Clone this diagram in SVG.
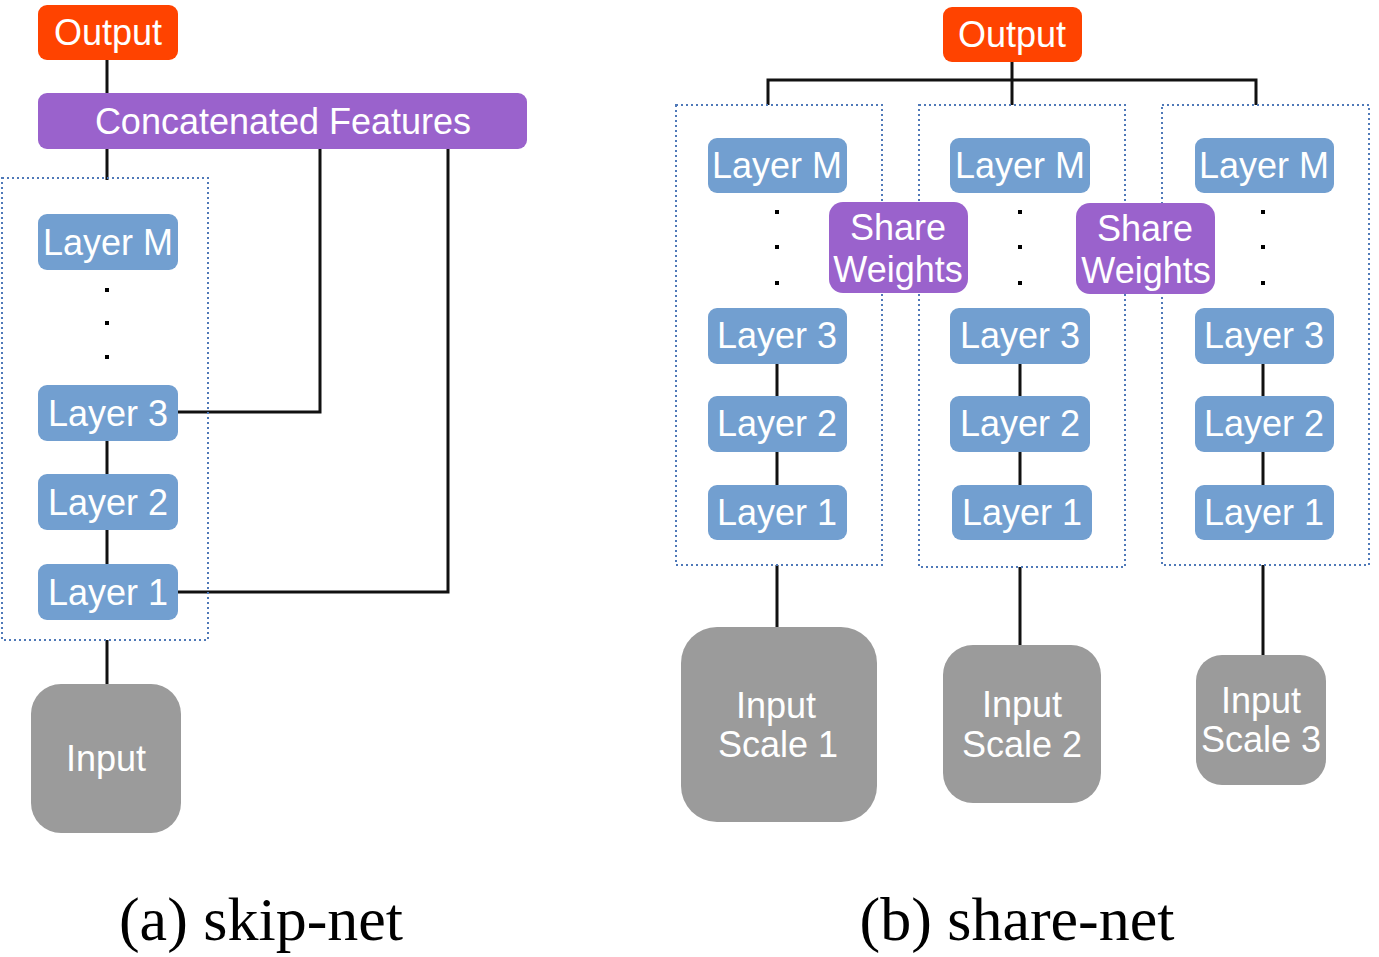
<svg xmlns="http://www.w3.org/2000/svg" width="1379" height="957" viewBox="0 0 1379 957">
<style>
.out{fill:#ff4300}
.cat{fill:#9a62cc}
.lay{fill:#729fd0}
.inp{fill:#9b9b9b}
.t{font-family:"Liberation Sans",Arial,sans-serif;font-size:36px;fill:#ffffff;text-anchor:middle}
.cap{font-family:"Liberation Serif","Times New Roman",serif;font-size:62px;fill:#000000;text-anchor:middle}
.grp{fill:none;stroke:#4f79b8;stroke-width:2;stroke-dasharray:2 3}
.ln{fill:none;stroke:#111111;stroke-width:3}
.dot{fill:#000000}
</style>
<g id="connectors">
<path class="ln" d="M107 60V93 M107 149V180 M107 640V684 M107 441V474 M107 530V564 M178 412H320V149 M178 592H448V149"/>
<path class="ln" d="M1012 62V80 M768 105V80H1256V105 M1012 80V105"/>
<path class="ln" d="M777 364V396 M777 452V485 M777 565V627 M1020 364V396 M1020 452V485 M1020 567V645 M1263 364V396 M1263 452V485 M1263 565V655"/>
</g>
<g id="groups">
<rect class="grp" x="2" y="178" width="206" height="462"/>
<rect class="grp" x="676" y="105" width="206" height="460"/>
<rect class="grp" x="919" y="105" width="206" height="462"/>
<rect class="grp" x="1162" y="105" width="207" height="460"/>
</g>
<g id="a-output"><rect class="out" x="38" y="5" width="140" height="55" rx="9"/><text class="t" x="108" y="45">Output</text></g>
<g id="a-concat"><rect class="cat" x="38" y="93" width="489" height="56" rx="9"/><text class="t" x="283" y="134">Concatenated Features</text></g>
<g id="a-layerM"><rect class="lay" x="38" y="214" width="140" height="56" rx="9"/><text class="t" x="108" y="255">Layer M</text></g>
<g id="a-dots"><rect class="dot" x="105" y="288" width="4" height="4"/><rect class="dot" x="105" y="321" width="4" height="4"/><rect class="dot" x="105" y="355" width="4" height="4"/></g>
<g id="a-layer3"><rect class="lay" x="38" y="385" width="140" height="56" rx="9"/><text class="t" x="108" y="426">Layer 3</text></g>
<g id="a-layer2"><rect class="lay" x="38" y="474" width="140" height="56" rx="9"/><text class="t" x="108" y="515">Layer 2</text></g>
<g id="a-layer1"><rect class="lay" x="38" y="564" width="140" height="56" rx="9"/><text class="t" x="108" y="605">Layer 1</text></g>
<g id="a-input"><rect class="inp" x="31" y="684" width="150" height="149" rx="30"/><text class="t" x="106" y="771">Input</text></g>

<g id="b-output"><rect class="out" x="943" y="7" width="139" height="55" rx="9"/><text class="t" x="1012" y="47">Output</text></g>

<g id="b1-layerM"><rect class="lay" x="708" y="138" width="139" height="55" rx="9"/><text class="t" x="777" y="178">Layer M</text></g>
<g id="b1-dots"><rect class="dot" x="775" y="210" width="4" height="4"/><rect class="dot" x="775" y="245" width="4" height="4"/><rect class="dot" x="775" y="281" width="4" height="4"/></g>
<g id="b1-layer3"><rect class="lay" x="708" y="308" width="139" height="56" rx="9"/><text class="t" x="777" y="348">Layer 3</text></g>
<g id="b1-layer2"><rect class="lay" x="708" y="396" width="139" height="56" rx="9"/><text class="t" x="777" y="436">Layer 2</text></g>
<g id="b1-layer1"><rect class="lay" x="708" y="485" width="139" height="55" rx="9"/><text class="t" x="777" y="525">Layer 1</text></g>
<g id="b1-input"><rect class="inp" x="681" y="627" width="196" height="195" rx="36"/><text class="t" x="776" y="718">Input</text><text class="t" x="778" y="757">Scale 1</text></g>

<g id="b2-layerM"><rect class="lay" x="950" y="138" width="140" height="55" rx="9"/><text class="t" x="1020" y="178">Layer M</text></g>
<g id="b2-dots"><rect class="dot" x="1018" y="210" width="4" height="4"/><rect class="dot" x="1018" y="245" width="4" height="4"/><rect class="dot" x="1018" y="281" width="4" height="4"/></g>
<g id="b2-layer3"><rect class="lay" x="950" y="308" width="140" height="56" rx="9"/><text class="t" x="1020" y="348">Layer 3</text></g>
<g id="b2-layer2"><rect class="lay" x="950" y="396" width="140" height="56" rx="9"/><text class="t" x="1020" y="436">Layer 2</text></g>
<g id="b2-layer1"><rect class="lay" x="952" y="485" width="140" height="55" rx="9"/><text class="t" x="1022" y="525">Layer 1</text></g>
<g id="b2-input"><rect class="inp" x="943" y="645" width="158" height="158" rx="30"/><text class="t" x="1022" y="717">Input</text><text class="t" x="1022" y="757">Scale 2</text></g>

<g id="b3-layerM"><rect class="lay" x="1195" y="138" width="139" height="55" rx="9"/><text class="t" x="1264" y="178">Layer M</text></g>
<g id="b3-dots"><rect class="dot" x="1261" y="210" width="4" height="4"/><rect class="dot" x="1261" y="245" width="4" height="4"/><rect class="dot" x="1261" y="281" width="4" height="4"/></g>
<g id="b3-layer3"><rect class="lay" x="1195" y="308" width="139" height="56" rx="9"/><text class="t" x="1264" y="348">Layer 3</text></g>
<g id="b3-layer2"><rect class="lay" x="1195" y="396" width="139" height="56" rx="9"/><text class="t" x="1264" y="436">Layer 2</text></g>
<g id="b3-layer1"><rect class="lay" x="1195" y="485" width="139" height="55" rx="9"/><text class="t" x="1264" y="525">Layer 1</text></g>
<g id="b3-input"><rect class="inp" x="1196" y="655" width="130" height="130" rx="26"/><text class="t" x="1261" y="713">Input</text><text class="t" x="1261" y="752">Scale 3</text></g>

<g id="b-share1"><rect class="cat" x="829" y="202" width="139" height="91" rx="14"/><text class="t" x="898" y="240">Share</text><text class="t" x="898" y="282">Weights</text></g>
<g id="b-share2"><rect class="cat" x="1076" y="203" width="139" height="91" rx="14"/><text class="t" x="1145" y="241">Share</text><text class="t" x="1146" y="283">Weights</text></g>

<g id="captions">
<text class="cap" x="261" y="940">(a) skip-net</text>
<text class="cap" x="1017" y="940">(b) share-net</text>
</g>
</svg>
